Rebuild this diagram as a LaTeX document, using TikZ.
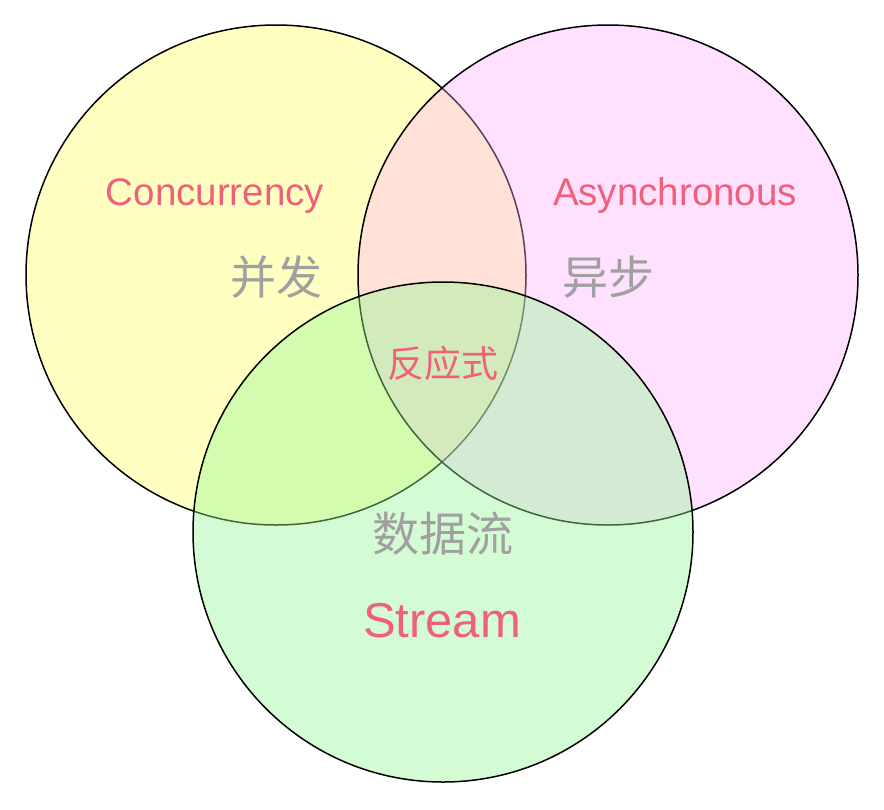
\documentclass[tikz,border=0pt]{standalone}
\usepackage{fontspec}
\setmainfont{Liberation Sans}
\newfontfamily\cjk{Noto Sans CJK SC}
\definecolor{ycol}{RGB}{255,255,194}
\definecolor{pcol}{RGB}{255,172,255}
\definecolor{gcol}{RGB}{150,248,150}
\definecolor{redtxt}{RGB}{240,96,122}
\definecolor{graytxt}{RGB}{160,160,160}
\begin{document}
\begin{tikzpicture}[x=1pt,y=-1pt,
  setcircle/.style={draw=black, line width=1.5pt},
  entxt/.style={text=redtxt, inner sep=0pt},
  cntxt/.style={text=graytxt, inner sep=0pt}]
\useasboundingbox (0,0) rectangle (884,809);
\path[setcircle, fill=ycol] (276,275) circle (250);
\path[setcircle, fill=pcol, fill opacity=0.36] (608,275) circle (250);
\path[setcircle, fill=gcol, fill opacity=0.41] (443,532) circle (250);
\coordinate (yc) at (276,275);
\coordinate (pc) at (608,275);
\coordinate (gc) at (443,532);
\node[entxt] (conc) at (215,196) {\fontsize{38.5}{40}\selectfont Concurrency};
\node[entxt] (async) at (675,196) {\fontsize{38.5}{40}\selectfont Asynchronous};
\node[cntxt] (bingfa) at (276,277) {\cjk\fontsize{46}{48}\selectfont 并发};
\node[cntxt] (yibu) at (608,277) {\cjk\fontsize{46}{48}\selectfont 异步};
\node[entxt] (fyshi) at (443,363) {\cjk\fontsize{37}{40}\selectfont 反应式};
\node[cntxt] (sjl) at (443,534) {\cjk\fontsize{47}{50}\selectfont 数据流};
\node[entxt] (stream) at (442,621) {\fontsize{49}{52}\selectfont Stream};
\end{tikzpicture}
\end{document}
